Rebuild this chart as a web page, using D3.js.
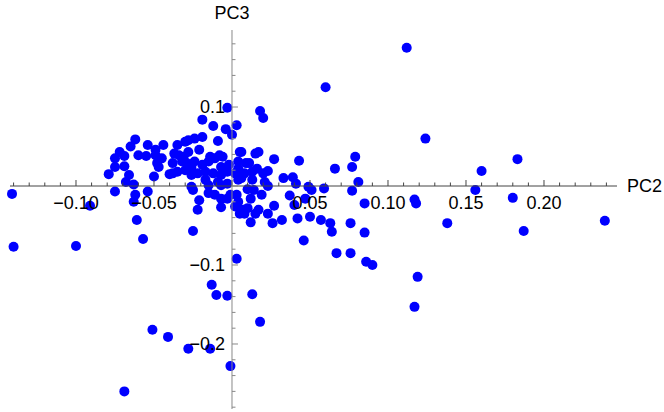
<!DOCTYPE html>
<html>
<head>
<meta charset="utf-8">
<script src="https://cdn.jsdelivr.net/npm/d3@7"></script>
<style>
  html, body { margin: 0; padding: 0; background: #fff; }
  svg { display: block; }
  text { font-family: "Liberation Sans", Arial, sans-serif; }
</style>
</head>
<body>
<svg id="chart" width="664" height="412"></svg>
<script>
// PC2 values
const pc2 = [
  0.112, 0.060, -0.141, -0.140, -0.100, -0.091, -0.069, -0.051, -0.041, -0.028,
  -0.014, -0.001, -0.013, -0.010, -0.003, 0.013, 0.018, 0.003, -0.057, 0.124,
  0.183, 0.160, 0.156, 0.180, 0.138, 0.117, 0.118, 0.239, 0.187, 0.119,
  0.117, 0.086, 0.090, 0.076,
  0.018, 0.020, 0.003, 0.005, 0.015, 0.017, 0.027, 0.043, 0.066, 0.079,
  0.077, 0.011, 0.004, 0.006, 0.008, 0.013, 0.016, 0.020, 0.023, 0.004,
  0.013, 0.021, 0.023, 0.033, 0.039, 0.041, 0.049, 0.051, 0.059, 0.081,
  0.077, 0.010, 0.014, 0.012, 0.019, 0.003, 0.037, 0.047, 0.040, 0.002,
  0.027, 0.010, 0.017, 0.005, 0.008, 0.015, 0.023, 0.012, 0.026, 0.032,
  0.042, 0.050, 0.057, 0.063, 0.064, 0.076, 0.085, 0.085, 0.046, 0.067,
  -0.003, -0.019, -0.012, -0.004, 0.000, -0.062, -0.030, -0.028, -0.024, -0.019,
  -0.009, -0.054, -0.044, -0.035, -0.065, -0.072, -0.049, -0.021, 0.006, -0.075,
  -0.069, -0.060, -0.055, -0.045, -0.037, -0.034, -0.028, -0.014, -0.011, -0.006,
  -0.075, -0.069, -0.047, -0.038, -0.032, -0.024, -0.019, -0.015, -0.007, -0.002,
  -0.079, -0.066, -0.050, -0.040, -0.035, -0.030, -0.026, -0.022, -0.017, -0.012,
  -0.007, -0.003, 0.006, -0.068, -0.063, -0.026, -0.015, -0.007, -0.075, -0.062,
  -0.054, -0.021, -0.015, -0.011, -0.007, -0.003, -0.063, -0.022, -0.007, -0.061,
  -0.025, -0.025,
  -0.031, -0.049, -0.048, -0.029, -0.026, -0.017, -0.009, -0.003, -0.001, 0.004,
  0.007, 0.002, 0.009, 0.004, -0.008, -0.038
];
// PC3 values
const pc3 = [
  0.175, 0.125, -0.010, -0.077, -0.076, -0.025, -0.260, -0.182, -0.191, -0.206,
  -0.206, -0.228, -0.125, -0.138, -0.139, -0.137, -0.172, -0.092, -0.067, 0.060,
  0.034, 0.019, -0.005, -0.015, -0.047, -0.017, -0.022, -0.044, -0.057, -0.115,
  -0.153, -0.096, -0.100, -0.085,
  0.095, 0.086, 0.077, 0.043, 0.041, 0.043, 0.034, 0.032, 0.022, 0.037,
  0.024, 0.029, 0.022, 0.014, 0.016, 0.018, 0.022, 0.016, 0.019, 0.008,
  0.008, 0.005, 0.000, 0.010, 0.011, 0.003, -0.001, -0.005, -0.003, 0.005,
  -0.006, -0.004, -0.005, -0.016, -0.011, -0.011, -0.012, -0.016, -0.024, -0.026,
  -0.025, -0.028, -0.030, -0.035, -0.035, -0.035, -0.035, -0.046, -0.047, -0.043,
  -0.041, -0.039, -0.043, -0.047, -0.058, -0.047, -0.022, -0.059, -0.069, -0.085,
  0.099, 0.084, 0.076, 0.072, 0.065, 0.059, 0.056, 0.058, 0.060, 0.062,
  0.057, 0.052, 0.052, 0.052, 0.050, 0.043, 0.046, 0.046, 0.043, 0.035,
  0.038, 0.039, 0.038, 0.035, 0.041, 0.039, 0.043, 0.037, 0.035, 0.037,
  0.024, 0.025, 0.024, 0.029, 0.031, 0.031, 0.027, 0.031, 0.024, 0.027,
  0.015, 0.014, 0.012, 0.015, 0.018, 0.020, 0.014, 0.016, 0.018, 0.016,
  0.014, 0.018, 0.010, 0.005, 0.002, -0.001, 0.001, 0.001, -0.007, -0.011,
  -0.007, -0.018, -0.009, -0.011, -0.016, -0.016, -0.020, -0.030, -0.027, -0.043,
  -0.057, -0.005,
  0.037, 0.039, 0.029, 0.029, 0.024, 0.008, 0.005, 0.003, -0.011, -0.020,
  -0.030, 0.016, 0.029, 0.031, 0.039, 0.016
];

const xLabel = "PC2";
const yLabel = "PC3";
const xMajorTicks = [-0.10, -0.05, 0.05, 0.10, 0.15, 0.20];
const yMajorTicks = [-0.2, -0.1, 0.1];

const svg = d3.select("#chart");
const x = d3.scaleLinear().domain([-0.1423, 0.2468]).range([10, 617]);
const y = d3.scaleLinear().domain([-0.2823, 0.1975]).range([409, 30]);

const data = pc2.map((v, i) => ({ x: v, y: pc3[i] }));

// points
svg.append("g")
  .selectAll("circle")
  .data(data)
  .join("circle")
  .attr("cx", d => x(d.x))
  .attr("cy", d => y(d.y))
  .attr("r", 5)
  .attr("fill", "#0000ff");

const fmt = v => (v < 0 ? "\u2212" : "") + d3.format(".2f")(Math.abs(v));
const fmtY = v => (v < 0 ? "\u2212" : "") + d3.format(".1f")(Math.abs(v));
const FS = 18;

// x axis
const xAxisColor = "#444";
const gx = svg.append("g");
gx.append("line")
  .attr("x1", x.range()[0]).attr("x2", x.range()[1])
  .attr("y1", y(0)).attr("y2", y(0))
  .attr("stroke", xAxisColor).attr("stroke-width", 1);
const xMinor = d3.range(-14, 25).map(i => i / 100);
gx.selectAll("line.tick")
  .data(xMinor)
  .join("line")
  .attr("class", "tick")
  .attr("x1", d => x(d)).attr("x2", d => x(d))
  .attr("y1", y(0))
  .attr("y2", d => y(0) - (Math.abs(Math.round(d * 100)) % 5 === 0 ? 6 : 3.5))
  .attr("stroke", xAxisColor).attr("stroke-width", 1);
gx.selectAll("text")
  .data(xMajorTicks)
  .join("text")
  .attr("x", d => x(d))
  .attr("y", y(0) + 23)
  .attr("text-anchor", "middle")
  .attr("font-size", FS)
  .attr("fill", "#000")
  .text(fmt);
svg.append("text")
  .attr("x", 627)
  .attr("y", y(0) + 6)
  .attr("font-size", FS)
  .attr("fill", "#000")
  .text(xLabel);

// y axis
const yAxisColor = "#888";
const gy = svg.append("g");
gy.append("line")
  .attr("x1", x(0)).attr("x2", x(0))
  .attr("y1", y.range()[0]).attr("y2", y.range()[1])
  .attr("stroke", yAxisColor).attr("stroke-width", 1);
const yMinor = d3.range(-14, 10).map(i => i / 50);
gy.selectAll("line.tick")
  .data(yMinor)
  .join("line")
  .attr("class", "tick")
  .attr("x1", x(0))
  .attr("x2", d => x(0) + (Math.abs(Math.round(d * 50)) % 5 === 0 ? 6 : 3.5))
  .attr("y1", d => y(d)).attr("y2", d => y(d))
  .attr("stroke", yAxisColor).attr("stroke-width", 1);
gy.selectAll("text")
  .data(yMajorTicks)
  .join("text")
  .attr("x", x(0) - 7)
  .attr("y", d => y(d))
  .attr("dy", "0.35em")
  .attr("text-anchor", "end")
  .attr("font-size", FS)
  .attr("fill", "#000")
  .text(fmtY);
svg.append("text")
  .attr("x", x(0))
  .attr("y", 19)
  .attr("text-anchor", "middle")
  .attr("font-size", FS)
  .attr("fill", "#000")
  .text(yLabel);
</script>
</body>
</html>
